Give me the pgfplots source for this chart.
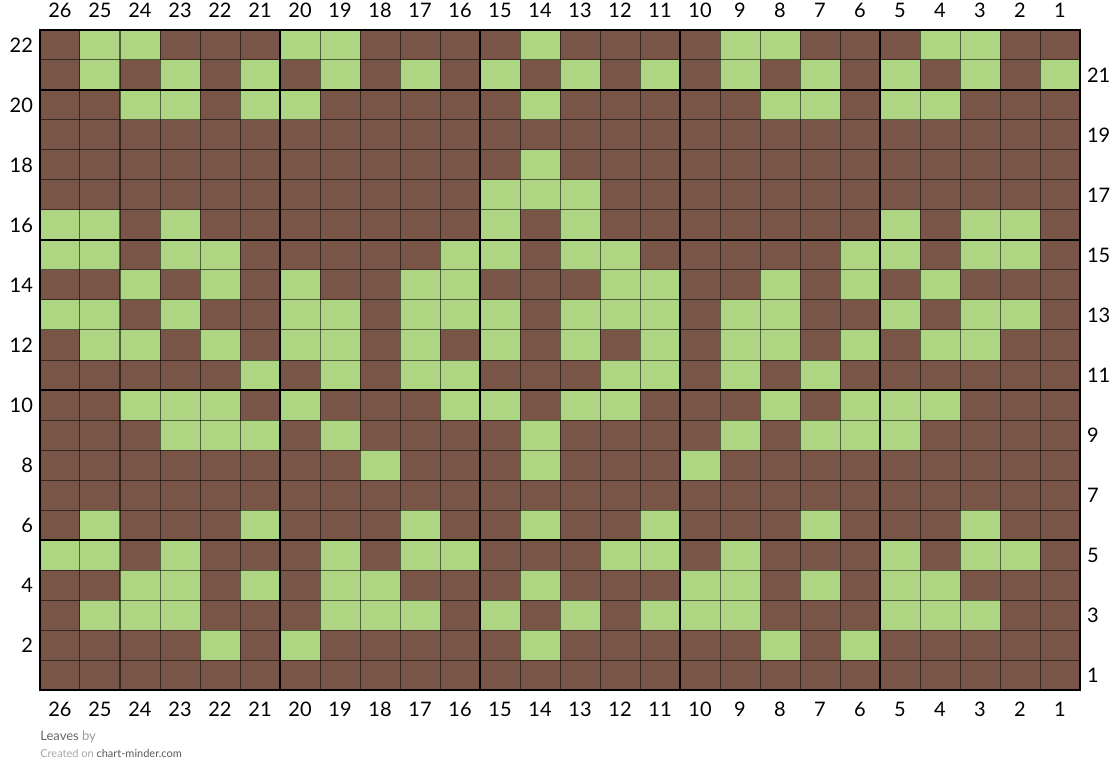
\documentclass[border=0pt]{standalone}
\usepackage{fontspec}
\setmainfont{Lato}
\usepackage{pgfplots}
\usepackage{pgfplotstable}
\pgfplotsset{compat=1.18}

\definecolor{bark}{HTML}{795548}
\definecolor{leaf}{HTML}{AED581}

% one stitch = one cell, 20pt x 15pt (axis is 520pt x 330pt for 26 x 22 cells)
\pgfdeclareplotmark{cell}{%
  \pgfpathrectangle{\pgfpoint{-10pt}{-7.5pt}}{\pgfpoint{20pt}{15pt}}%
  \pgfusepathqfill}

% chart rows, top to bottom; 1 = green stitch, 0 = brown
\pgfplotstableread{
row c26 c25 c24 c23 c22 c21 c20 c19 c18 c17 c16 c15 c14 c13 c12 c11 c10 c9 c8 c7 c6 c5 c4 c3 c2 c1
22  0 1 1 0 0 0 1 1 0 0 0 0 1 0 0 0 0 1 1 0 0 0 1 1 0 0
21  0 1 0 1 0 1 0 1 0 1 0 1 0 1 0 1 0 1 0 1 0 1 0 1 0 1
20  0 0 1 1 0 1 1 0 0 0 0 0 1 0 0 0 0 0 1 1 0 1 1 0 0 0
19  0 0 0 0 0 0 0 0 0 0 0 0 0 0 0 0 0 0 0 0 0 0 0 0 0 0
18  0 0 0 0 0 0 0 0 0 0 0 0 1 0 0 0 0 0 0 0 0 0 0 0 0 0
17  0 0 0 0 0 0 0 0 0 0 0 1 1 1 0 0 0 0 0 0 0 0 0 0 0 0
16  1 1 0 1 0 0 0 0 0 0 0 1 0 1 0 0 0 0 0 0 0 1 0 1 1 0
15  1 1 0 1 1 0 0 0 0 0 1 1 0 1 1 0 0 0 0 0 1 1 0 1 1 0
14  0 0 1 0 1 0 1 0 0 1 1 0 0 0 1 1 0 0 1 0 1 0 1 0 0 0
13  1 1 0 1 0 0 1 1 0 1 1 1 0 1 1 1 0 1 1 0 0 1 0 1 1 0
12  0 1 1 0 1 0 1 1 0 1 0 1 0 1 0 1 0 1 1 0 1 0 1 1 0 0
11  0 0 0 0 0 1 0 1 0 1 1 0 0 0 1 1 0 1 0 1 0 0 0 0 0 0
10  0 0 1 1 1 0 1 0 0 0 1 1 0 1 1 0 0 0 1 0 1 1 1 0 0 0
9   0 0 0 1 1 1 0 1 0 0 0 0 1 0 0 0 0 1 0 1 1 1 0 0 0 0
8   0 0 0 0 0 0 0 0 1 0 0 0 1 0 0 0 1 0 0 0 0 0 0 0 0 0
7   0 0 0 0 0 0 0 0 0 0 0 0 0 0 0 0 0 0 0 0 0 0 0 0 0 0
6   0 1 0 0 0 1 0 0 0 1 0 0 1 0 0 1 0 0 0 1 0 0 0 1 0 0
5   1 1 0 1 0 0 0 1 0 1 1 0 0 0 1 1 0 1 0 0 0 1 0 1 1 0
4   0 0 1 1 0 1 0 1 1 0 0 0 1 0 0 0 1 1 0 1 0 1 1 0 0 0
3   0 1 1 1 0 0 0 1 1 1 0 1 0 1 0 1 1 1 0 0 0 1 1 1 0 0
2   0 0 0 0 1 0 1 0 0 0 0 0 1 0 0 0 0 0 1 0 1 0 0 0 0 0
1   0 0 0 0 0 0 0 0 0 0 0 0 0 0 0 0 0 0 0 0 0 0 0 0 0 0
}\leaves

\begin{document}
\begin{tikzpicture}
\begin{axis}[
    set layers,
    at={(0,0)}, anchor=south west,
    scale only axis, width=520pt, height=330pt,
    x dir=reverse,
    xmin=0.5, xmax=26.5, ymin=0.5, ymax=22.5,
    axis on top,
    axis line style={line width=1.3pt},
    major tick length=0pt,
    xtick={1,...,26},
    ytick={2,4,...,22},
    extra x ticks={1,...,26},
    extra x tick style={xticklabel pos=upper},
    extra y ticks={1,3,...,21},
    extra y tick style={yticklabel pos=right},
    tick label style={font=\fontsize{10}{12}\selectfont},
    /pgf/number format/assume math mode=true,
    xticklabel shift=2.5pt,
    clip=false]
\pgfplotsinvokeforeach{1,...,26}{
  \addplot[scatter, only marks, mark=cell, point meta=explicit symbolic,
    scatter/classes={0={fill=bark}, 1={fill=leaf}}]
    table[x expr=#1, y=row, meta=c#1] {\leaves};
}
\begin{pgfonlayer}{axis foreground}
\pgfplotsinvokeforeach{1.5,2.5,...,25.5}{
  \draw[black, opacity=0.55, line width=0.5pt] (axis cs:#1,0.5) -- (axis cs:#1,22.5);
}
\pgfplotsinvokeforeach{1.5,2.5,...,21.5}{
  \draw[black, opacity=0.55, line width=0.5pt] (axis cs:0.5,#1) -- (axis cs:26.5,#1);
}
\pgfplotsinvokeforeach{5.5,10.5,15.5,20.5}{
  \draw[black, line width=1pt] (axis cs:#1,0.5) -- (axis cs:#1,22.5);
  \draw[black, line width=1pt] (axis cs:0.5,#1) -- (axis cs:26.5,#1);
}
\end{pgfonlayer}
\end{axis}
\node[anchor=base west, inner sep=0pt, font=\fontsize{6.5}{8}\selectfont]
  at (0pt,-25pt) {\textcolor{black!60}{Leaves} \textcolor{black!40}{by}};
\node[anchor=base west, inner sep=0pt, font=\fontsize{5.5}{7}\selectfont]
  at (0pt,-33.5pt) {\textcolor{black!35}{Created on} \textcolor{black!65}{chart-minder.com}};
\pgfresetboundingbox
\path[use as bounding box] (-20pt,-46.5pt) rectangle (540pt,345pt);
\end{tikzpicture}
\end{document}
